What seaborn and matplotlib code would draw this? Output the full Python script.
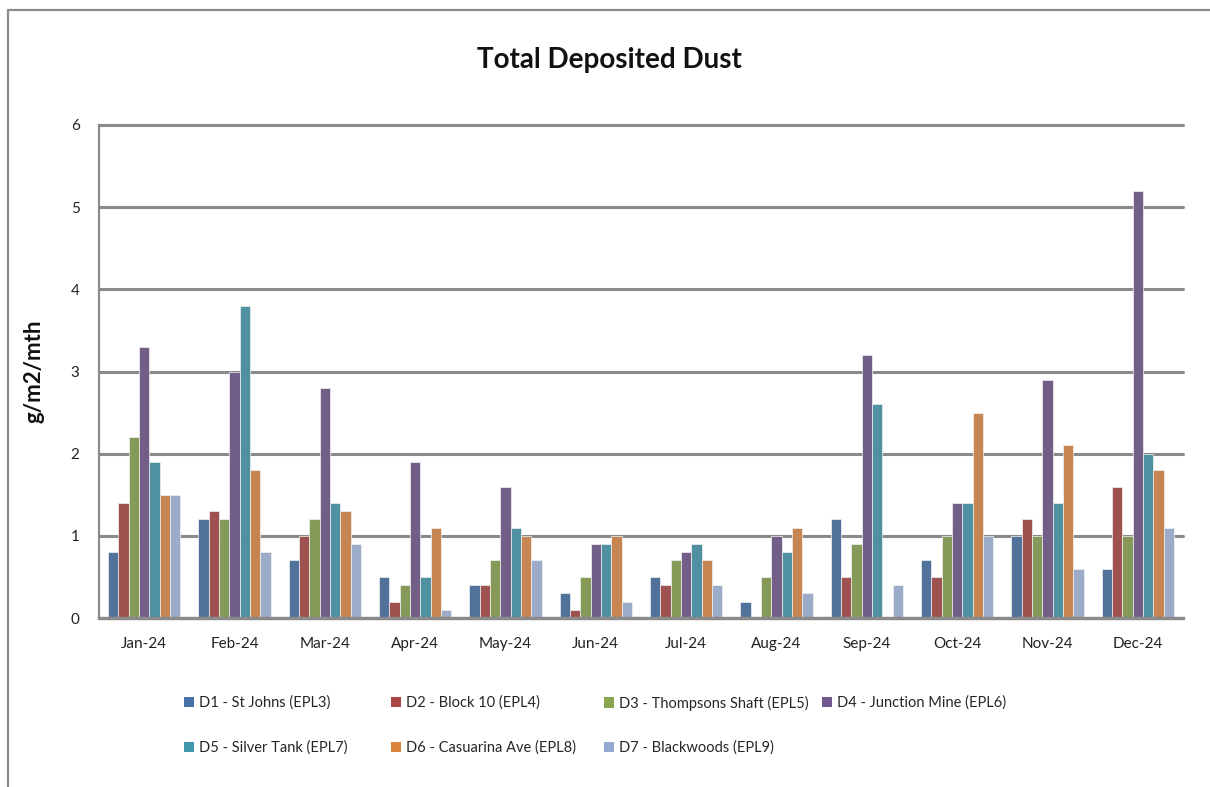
import numpy as np
import pandas as pd
import matplotlib
matplotlib.use("Agg")
import matplotlib.pyplot as plt
from matplotlib.lines import Line2D
from matplotlib.patches import Patch
import seaborn as sns

# Monthly deposited dust (g/m2/mth) per monitoring site
months = ["Jan-24", "Feb-24", "Mar-24", "Apr-24", "May-24", "Jun-24",
          "Jul-24", "Aug-24", "Sep-24", "Oct-24", "Nov-24", "Dec-24"]
sites = ["D1 - St Johns (EPL3)", "D2 - Block 10 (EPL4)",
         "D3 - Thompsons Shaft (EPL5)", "D4 - Junction Mine (EPL6)",
         "D5 - Silver Tank (EPL7)", "D6 - Casuarina Ave (EPL8)",
         "D7 - Blackwoods (EPL9)"]

d1 = [0.8, 1.2, 0.7, 0.5, 0.4, 0.3, 0.5, 0.2, 1.2, 0.7, 1.0, 0.6]
d2 = [1.4, 1.3, 1.0, 0.2, 0.4, 0.1, 0.4, np.nan, 0.5, 0.5, 1.2, 1.6]
d3 = [2.2, 1.2, 1.2, 0.4, 0.7, 0.5, 0.7, 0.5, 0.9, 1.0, 1.0, 1.0]
d4 = [3.3, 3.0, 2.8, 1.9, 1.6, 0.9, 0.8, 1.0, 3.2, 1.4, 2.9, 5.2]
d5 = [1.9, 3.8, 1.4, 0.5, 1.1, 0.9, 0.9, 0.8, 2.6, 1.4, 1.4, 2.0]
d6 = [1.5, 1.8, 1.3, 1.1, 1.0, 1.0, 0.7, 1.1, np.nan, 2.5, 2.1, 1.8]
d7 = [1.5, 0.8, 0.9, 0.1, 0.7, 0.2, 0.4, 0.3, 0.4, 1.0, 0.6, 1.1]

colors = ["#4572A7", "#AA4643", "#89A54E", "#71588F",
          "#4198AF", "#DB843D", "#93A9CF"]

series = [d1, d2, d3, d4, d5, d6, d7]
df = pd.DataFrame({
    "month": np.tile(months, len(sites)),
    "site": np.repeat(sites, len(months)),
    "value": np.concatenate(series),
})

sns.set_theme(style="white")
plt.rcParams["font.family"] = ["Lato", "DejaVu Sans"]

fig = plt.figure(figsize=(12.1, 7.87), dpi=100)
ax = fig.add_axes([99 / 1210, 1 - 618 / 787, 1084 / 1210, 493 / 787])

sns.barplot(data=df, x="month", y="value", hue="site", order=months,
            hue_order=sites, palette=colors, width=0.8, ax=ax,
            edgecolor="#f2f2f2", linewidth=0.5, legend=False, errorbar=None)

grid_c = "#8a8a8a"
ax.set_ylim(0, 6)
ax.set_xlim(-0.5, 11.5)
ax.set_yticks(range(7))
ax.yaxis.grid(True, color=grid_c, linewidth=2.2)
ax.set_axisbelow(True)
for gl in ax.get_ygridlines():
    gl.set_clip_on(False)

for side in ["top", "right"]:
    ax.spines[side].set_visible(False)
ax.spines["left"].set_color(grid_c)
ax.spines["left"].set_linewidth(1.6)
ax.spines["bottom"].set_color(grid_c)
ax.spines["bottom"].set_linewidth(2.4)

ax.tick_params(axis="both", length=0, labelsize=11, colors="#222222")
ax.tick_params(axis="y", pad=14)
ax.tick_params(axis="x", pad=14)
ax.set_xlabel("")
ax.set_ylabel("g/m2/mth", fontsize=16, fontweight="bold", color="#111111")
ax.yaxis.set_label_coords(-0.05, 0.5)

fig.text(609 / 1210, 1 - 60 / 787, "Total Deposited Dust", ha="center",
         va="center", fontsize=20, fontweight="bold", color="#111111")

# Legend entries laid out in two rows below the plot
legend_pos = [(184, 703), (391, 703), (604, 703), (822, 703),
              (184, 748), (391, 748), (604, 748)]
for (px, py), name, c in zip(legend_pos, sites, colors):
    fig.legend(handles=[Patch(facecolor=c, edgecolor="none")], labels=[name],
               loc="center left", bbox_to_anchor=(px / 1210, 1 - py / 787),
               frameon=False, fontsize=10.5, handlelength=0.7,
               handleheight=0.7, handletextpad=0.3, borderpad=0,
               borderaxespad=0)

# Outer chart frame (left and top edges)
x0, y0 = 8 / 1210, 1 - 10 / 787
fig.add_artist(Line2D([x0, x0], [y0, -0.1], color=grid_c, linewidth=1.6))
fig.add_artist(Line2D([x0, 1.1], [y0, y0], color=grid_c, linewidth=1.6))

fig.savefig("out.png", dpi=100)
